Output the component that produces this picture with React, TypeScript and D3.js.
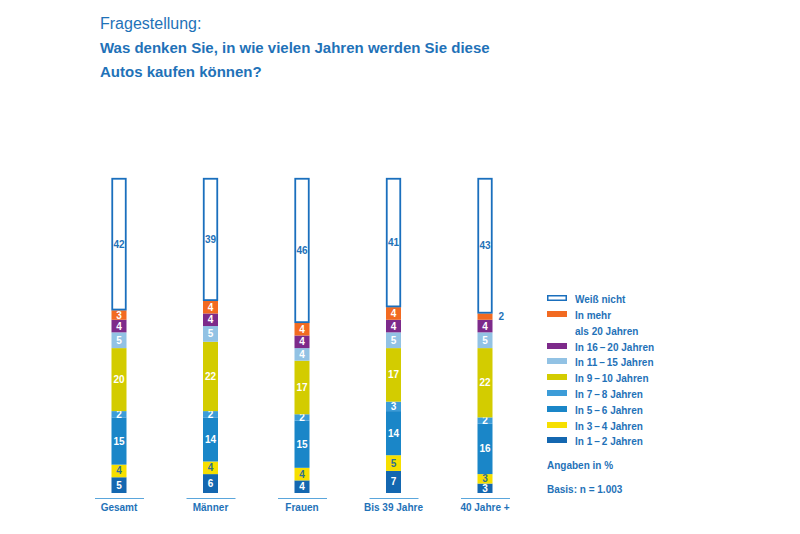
import React from 'react';
import * as d3 from 'd3';

// Groups along the x axis
const categories = ['Gesamt', 'Männer', 'Frauen', 'Bis 39 Jahre', '40 Jahre +'];

// Series from bottom to top of each stacked bar (values in %)
const in1bis2 = [5, 6, 4, 7, 3];
const in3bis4 = [4, 4, 4, 5, 3];
const in5bis6 = [15, 14, 15, 14, 16];
const in7bis8 = [2, 2, 2, 3, 2];
const in9bis10 = [20, 22, 17, 17, 22];
const in11bis15 = [5, 5, 4, 5, 5];
const in16bis20 = [4, 4, 4, 4, 4];
const inMehr20 = [3, 4, 4, 4, 2];
const weissNicht = [42, 39, 46, 41, 43];

const seriesNames = [
  'In 1\u2009–\u20092 Jahren',
  'In 3\u2009–\u20094 Jahren',
  'In 5\u2009–\u20096 Jahren',
  'In 7\u2009–\u20098 Jahren',
  'In 9\u2009–\u200910 Jahren',
  'In 11\u2009–\u200915 Jahren',
  'In 16\u2009–\u200920 Jahren',
  'In mehr als 20 Jahren',
  'Weiß nicht',
];
const seriesValues = [in1bis2, in3bis4, in5bis6, in7bis8, in9bis10, in11bis15, in16bis20, inMehr20, weissNicht];
const seriesColors = ['#1467b0', '#f6df00', '#1a86c8', '#3c9cd8', '#d3cc00', '#92c2e4', '#7d2a8a', '#f26a21', '#ffffff'];
const labelColors = ['#fff', '#2f6f8f', '#fff', '#fff', '#fff', '#fff', '#fff', '#fff', '#1f72b8'];

const BLUE = '#1f72b8';
const FONT = '"Liberation Sans", Arial, sans-serif';

const App = () => {
  const width = 800;
  const height = 534;

  const x = d3.scalePoint<string>().domain(categories).range([119, 485]);
  const y = d3.scaleLinear().domain([0, 100]).range([493, 178]);
  const barW = 15;

  // stacked table
  const table = categories.map((c, i) => {
    const row: any = { cat: c };
    seriesNames.forEach((s, k) => (row[s] = seriesValues[k][i]));
    return row;
  });
  const stacked = d3.stack<any>().keys(seriesNames)(table);

  // legend order (top to bottom)
  const legendOrder = [8, 7, 6, 5, 4, 3, 2, 1, 0];
  const legendY = [300, 316, 348, 363, 379, 395, 411, 427, 442];

  return (
    <svg width={width} height={height} style={{ position: 'absolute', left: 0, top: 0, background: '#fff' }} fontFamily={FONT}>
      <text x={100} y={29} fill={BLUE} fontSize={16} fontWeight={300}>Fragestellung:</text>
      <text x={100} y={53} fill={BLUE} fontSize={15} fontWeight="bold">Was denken Sie, in wie vielen Jahren werden Sie diese</text>
      <text x={100} y={77} fill={BLUE} fontSize={15} fontWeight="bold">Autos kaufen können?</text>

      {stacked.map((layer, k) => (
        <g key={layer.key}>
          {layer.map((d, i) => {
            const cx = x(categories[i]) as number;
            const y0 = y(d[0]);
            const y1 = y(d[1]);
            const v = d[1] - d[0];
            const isWhite = k === 8;
            // only the thin orange slice gets its label beside the bar
            const outside = k === 7 && v < 3;
            return (
              <g key={i}>
                <rect
                  x={cx - barW / 2 + (isWhite ? 0.75 : 0)}
                  y={y1 + (isWhite ? 0.75 : 0)}
                  width={barW - (isWhite ? 1.5 : 0)}
                  height={y0 - y1 - (isWhite ? 1.5 : 0)}
                  fill={seriesColors[k]}
                  stroke={isWhite ? '#1a6fbd' : 'none'}
                  strokeWidth={isWhite ? 1.8 : 0}
                />
                <text
                  x={outside ? cx + barW / 2 + 6 : cx}
                  y={(y0 + y1) / 2 + 3.5}
                  textAnchor={outside ? 'start' : 'middle'}
                  fill={outside ? BLUE : labelColors[k]}
                  fontSize={10}
                  fontWeight="bold"
                >
                  {v}
                </text>
              </g>
            );
          })}
        </g>
      ))}

      {categories.map((c) => (
        <g key={c}>
          <line x1={(x(c) as number) - 24} x2={(x(c) as number) + 25} y1={498.5} y2={498.5} stroke="#5aa6dc" strokeWidth={1} />
          <text x={x(c)} y={511} textAnchor="middle" fill={BLUE} fontSize={10} fontWeight="bold">{c}</text>
        </g>
      ))}

      {legendOrder.map((k, j) => (
        <g key={k}>
          <rect
            x={k === 8 ? 547.75 : 547}
            y={legendY[j] - 5 + (k === 8 ? 0.75 : 0)}
            width={k === 8 ? 18.5 : 20}
            height={k === 8 ? 4.5 : 6}
            fill={seriesColors[k]}
            stroke={k === 8 ? '#1a6fbd' : 'none'}
            strokeWidth={k === 8 ? 1.5 : 0}
          />
          <text x={575} y={legendY[j] + 3} fill={BLUE} fontSize={10} fontWeight="bold">
            {k === 7 ? 'In mehr' : seriesNames[k]}
          </text>
        </g>
      ))}
      <text x={575} y={335} fill={BLUE} fontSize={10} fontWeight="bold">als 20 Jahren</text>
      <text x={547} y={469} fill={BLUE} fontSize={10} fontWeight="bold">Angaben in %</text>
      <text x={547} y={493} fill={BLUE} fontSize={10} fontWeight="bold">Basis: n = 1.003</text>
    </svg>
  );
};

export default App;
